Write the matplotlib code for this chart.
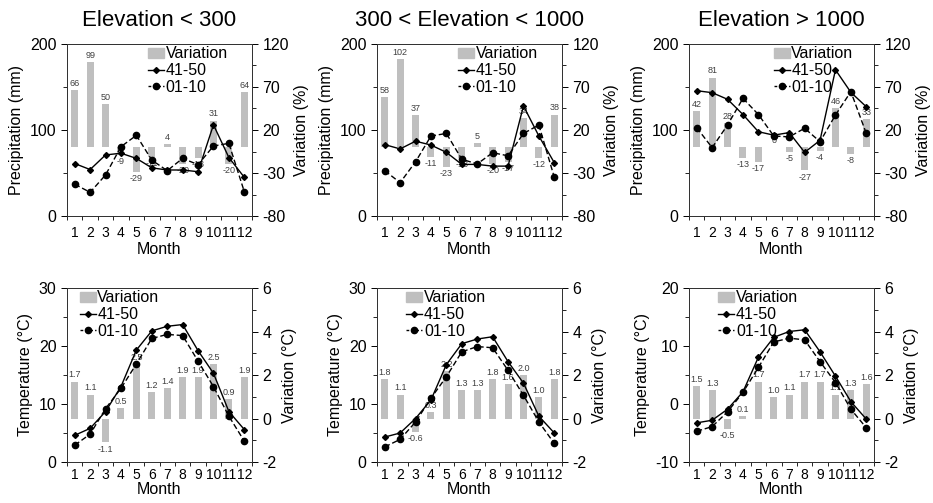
import numpy as np
import matplotlib
matplotlib.use('Agg')
import matplotlib.pyplot as plt
import matplotlib.patches as mpatches
import matplotlib.lines as mlines
from matplotlib.ticker import MultipleLocator, FixedLocator

plt.rcParams['font.family'] = ['Liberation Sans', 'DejaVu Sans']
plt.rcParams['axes.unicode_minus'] = False

MONTHS = np.arange(1, 13)
TITLES = ['Elevation < 300', '300 < Elevation < 1000', 'Elevation > 1000']

# precipitation (mm)
prec_4150 = [
    [61, 54, 71, 73, 67, 56, 53.5, 53.5, 51.5, 106, 68, 45],
    [83, 78, 87, 82.5, 74, 60, 60, 58, 58, 128, 93, 62],
    [145.7, 143.4, 135.7, 118, 98, 94, 97, 74, 88, 170, 143.8, 127],
]
prec_0110 = [
    [37, 27.5, 47.7, 80.6, 93.8, 65, 52.7, 67, 59.7, 81.4, 84.5, 28.3],
    [52.7, 38.8, 63, 93, 96, 66, 60.5, 73.6, 70, 96, 105.8, 45],
    [102.7, 79.5, 105.8, 136.8, 118, 93, 92, 102, 86.4, 117.4, 144.6, 96],
]
prec_var = [
    [66, 99, 50, -9, -29, -11, 4, -20, -13, 31, -20, 64],
    [58, 102, 37, -11, -23, -13, 5, -20, -17, 34, -12, 38],
    [42, 81, 28, -13, -17, 0, -5, -27, -4, 46, -8, 33],
]

# temperature (degC)
temp_4150 = [
    [4.6, 5.8, 8.7, 13.0, 19.3, 22.6, 23.4, 23.7, 19.2, 15.3, 8.7, 5.6],
    [4.3, 5.0, 7.5, 10.7, 16.8, 20.4, 21.2, 21.6, 17.3, 13.6, 7.9, 5.0],
    [-3.25, -2.8, -0.9, 2.1, 8.06, 11.5, 12.5, 12.8, 9.0, 4.8, 0.4, -2.6],
]
temp_0110 = [
    [2.9, 4.8, 9.2, 12.7, 16.9, 21.3, 22.0, 21.8, 17.4, 13.0, 7.9, 3.6],
    [2.6, 3.9, 6.9, 11.0, 14.7, 19.0, 19.9, 19.7, 15.8, 11.5, 6.9, 3.2],
    [-4.7, -3.9, -1.35, 2.0, 6.3, 10.7, 11.35, 11.06, 7.3, 3.7, -0.9, -4.1],
]
temp_var = [
    [1.7, 1.1, -1.1, 0.5, 2.5, 1.2, 1.4, 1.9, 1.9, 2.5, 0.9, 1.9],
    [1.8, 1.1, -0.6, 0.3, 2.2, 1.3, 1.3, 1.8, 1.6, 2.0, 1.0, 1.8],
    [1.5, 1.3, -0.5, 0.1, 1.7, 1.0, 1.1, 1.7, 1.7, 1.1, 1.3, 1.6],
]

BAR_COLOR = '#bfbfbf'
W, H = 933, 503
COL_LEFT = [67, 377, 689]
AX_W = 185


def make_axes(fig, left, top, bottom):
    return fig.add_axes([left / W, (H - bottom) / H, AX_W / W, (bottom - top) / H])


def panel(ax, v4150, v0110, var, ylim, ymajor, yminor, rlim, rmajor, rminor,
          ylabel, rlabel, fmt, leg_x, xpad, xlabelpad):
    ax2 = ax.twinx()
    ax.set_zorder(ax2.get_zorder() + 1)
    ax.patch.set_visible(False)

    ax2.bar(MONTHS, var, width=0.45, color=BAR_COLOR, zorder=1)
    for m, v in zip(MONTHS, var):
        if v >= 0:
            ax2.annotate(fmt.format(v), (m, v), xytext=(0, 1.5), textcoords='offset points',
                         ha='center', va='bottom', fontsize=6.5, color='#404040')
        else:
            ax2.annotate(fmt.format(v), (m, v), xytext=(0, -1.5), textcoords='offset points',
                         ha='center', va='top', fontsize=6.5, color='#404040')

    ax.plot(MONTHS, v4150, color='black', lw=1.0, marker='D', ms=3)
    ax.plot(MONTHS, v0110, color='black', lw=1.0, ls=(0, (4, 2)), marker='o', ms=4.5)

    ax.set_xlim(0.5, 12.5)
    ax.set_ylim(*ylim)
    ax2.set_ylim(*rlim)
    ax.yaxis.set_major_locator(MultipleLocator(ymajor))
    ax.yaxis.set_minor_locator(MultipleLocator(yminor))
    ax2.yaxis.set_major_locator(FixedLocator(rmajor))
    ax2.yaxis.set_minor_locator(FixedLocator(rminor))

    ax.set_xticks(MONTHS)
    ax.set_xticks(np.arange(0.5, 13, 1), minor=True)
    ax.tick_params(axis='x', which='major', length=0, labelsize=10, pad=xpad)
    ax.tick_params(axis='x', which='minor', length=3, width=0.6)
    ax.tick_params(axis='y', which='major', length=4, width=0.7, labelsize=11.5)
    ax.tick_params(axis='y', which='minor', length=3, width=0.6)
    ax2.tick_params(axis='y', which='major', length=4, width=0.7, labelsize=11.5)
    ax2.tick_params(axis='y', which='minor', length=3, width=0.6)

    for a in (ax, ax2):
        for s in a.spines.values():
            s.set_linewidth(0.7)
            s.set_color('#333333')

    ax.set_xlabel('Month', fontsize=11.5, labelpad=xlabelpad)
    ax.set_ylabel(ylabel, fontsize=11.5, labelpad=4)
    ax2.set_ylabel(rlabel, fontsize=11.5, labelpad=4)

    handles = [
        mpatches.Patch(color=BAR_COLOR, label='Variation'),
        mlines.Line2D([], [], color='black', lw=1.0, marker='D', ms=3, label='41-50'),
        mlines.Line2D([], [], color='black', lw=1.0, ls=(0, (2, 1.5)), marker='o', ms=4.5,
                      label='01-10'),
    ]
    ax.legend(handles=handles, loc='upper left', bbox_to_anchor=(leg_x, 0.995), frameon=False,
              fontsize=11.5, handlelength=1.0, handleheight=0.6, handletextpad=0.1,
              labelspacing=0.1, borderpad=0.1, borderaxespad=0)
    return ax2


fig = plt.figure(figsize=(W / 100, H / 100), dpi=100)

top_leg_x = [0.43, 0.43, 0.45]
bot_leg_x = [0.06, 0.15, 0.15]
temp_lims = [(0, 30), (0, 30), (-10, 20)]

for i in range(3):
    ax = make_axes(fig, COL_LEFT[i], 44, 216)
    panel(ax, prec_4150[i], prec_0110[i], prec_var[i], (0, 200), 100, 50,
          (-80, 120), [-80, -30, 20, 70, 120], [-55, -5, 45, 95],
          'Precipitation (mm)', 'Variation (%)', '{:g}', top_leg_x[i], 7, 2)
    ax.set_title(TITLES[i], fontsize=16, pad=13)

    ax = make_axes(fig, COL_LEFT[i], 288, 462)
    panel(ax, temp_4150[i], temp_0110[i], temp_var[i], temp_lims[i], 10, 5,
          (-2, 6), [-2, 0, 2, 4, 6], [-1, 1, 3, 5],
          'Temperature (°C)', 'Variation (°C)', '{:.1f}', bot_leg_x[i], 4, 0)

fig.savefig('out.png', dpi=100)
